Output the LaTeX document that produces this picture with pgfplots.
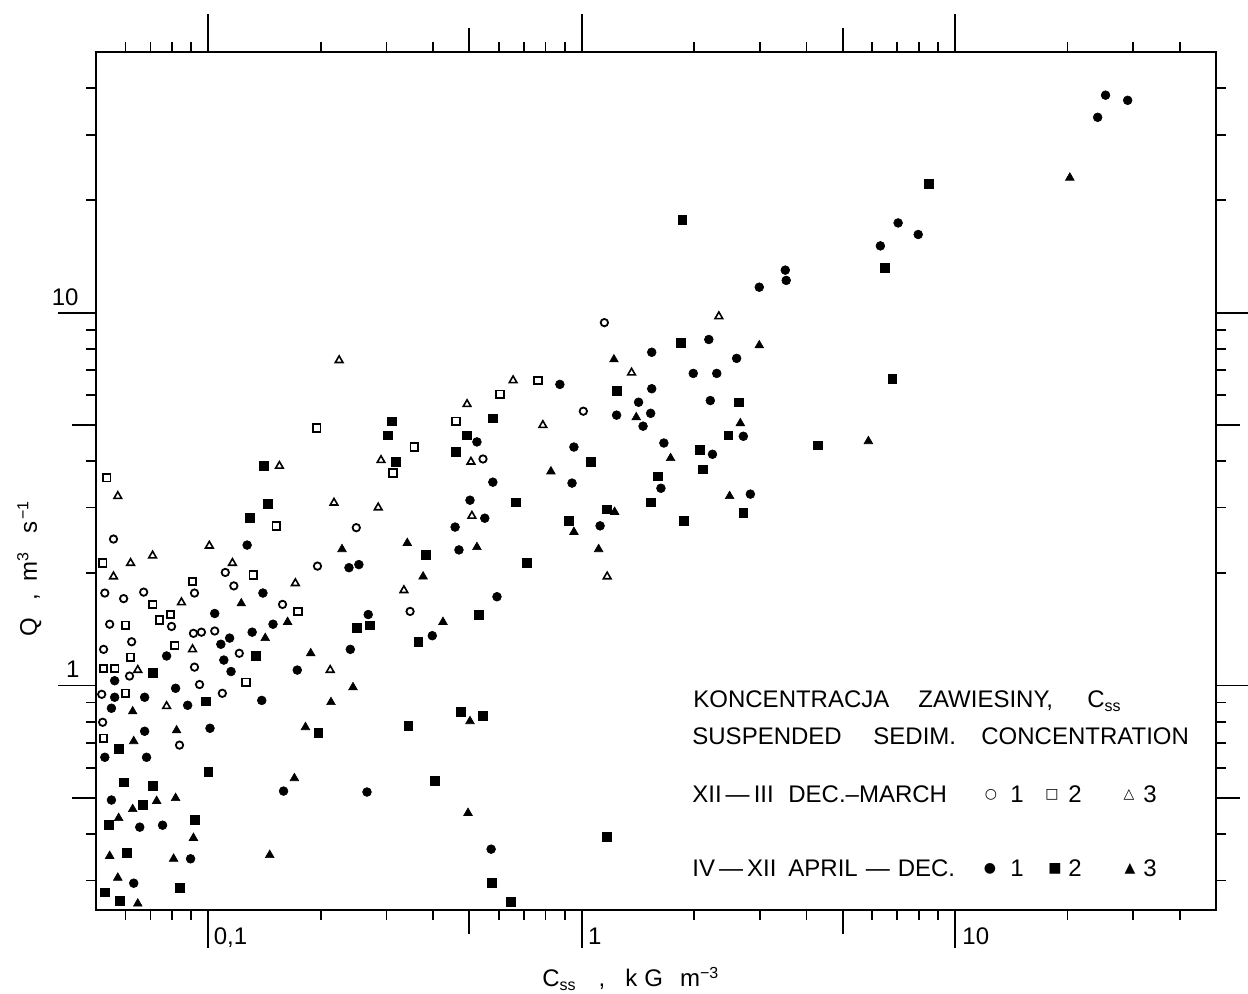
\documentclass[12pt,border=0pt]{standalone}
\usepackage{fontspec}
\setmainfont{Liberation Sans}
\newfontfamily\symfont{DejaVu Sans}
\usepackage{pgfplots}
\pgfplotsset{compat=1.18}

\begin{document}
\begin{tikzpicture}[font=\fontsize{12}{14}\selectfont]
\useasboundingbox (-48pt,-42pt) rectangle (576pt,455pt);
\begin{axis}[
    at={(0,0)}, anchor=south west,
    scale only axis, width=560pt, height=429pt,
    xmode=log, ymode=log,
    xmin=0.05, xmax=50, ymin=0.25, ymax=50,
    axis line style={line width=1pt},
    tick align=outside,
    xtick={0.1,1,10}, ytick={1,10},
    xticklabels={}, yticklabels={},
    minor xtick={0.06,0.07,0.08,0.09,0.2,0.3,0.4,0.5,0.6,0.7,0.8,0.9,2,3,4,5,6,7,8,9,20,30,40},
    minor ytick={0.3,0.4,0.5,0.6,0.7,0.8,0.9,2,3,4,5,6,7,8,9,20,30,40},
    extra x ticks={0.5,5}, extra y ticks={0.5,5},
    extra x tick labels={}, extra y tick labels={},
    extra tick style={major tick length=12pt},
    major tick length=19pt, minor tick length=5pt,
    every tick/.style={black, line width=0.9pt},
    clip=false,
    o1/.style={only marks, mark=o, mark size=1.85pt, mark options={line width=0.9pt}},
    o2/.style={only marks, mark=square, mark size=1.9pt, mark options={line width=0.9pt}},
    o3/.style={only marks, mark=triangle, mark size=2.2pt, mark options={line width=0.8pt}},
    f1/.style={only marks, mark=*, mark size=2.2pt, mark options={line width=0.3pt}},
    f2/.style={only marks, mark=square*, mark size=2.2pt, mark options={line width=0.3pt}},
    f3/.style={only marks, mark=triangle*, mark size=2.5pt, mark options={line width=0.3pt}},
]
% XII-III, 1
\addplot[o1] coordinates {(1.15,9.4) (1.01,5.44) (0.544,4.05) (0.249,2.65) (0.0557,2.47) (0.196,2.09) (0.111,2.01) (0.0528,1.77) (0.0593,1.71) (0.0671,1.78) (0.0918,1.77) (0.117,1.85) (0.158,1.65) (0.347,1.58) (0.0544,1.46) (0.0797,1.44) (0.0912,1.38) (0.0958,1.39) (0.104,1.40) (0.0524,1.25) (0.0623,1.31) (0.0918,1.12) (0.121,1.22) (0.0615,1.06) (0.0518,0.947) (0.0947,1.006) (0.109,0.953) (0.0521,0.797) (0.0837,0.692)};
% XII-III, 2
\addplot[o2] coordinates {(0.763,6.58) (0.604,6.04) (0.461,5.11) (0.356,4.36) (0.195,4.90) (0.312,3.71) (0.0534,3.61) (0.152,2.68) (0.0521,2.13) (0.132,1.98) (0.0907,1.90) (0.0709,1.65) (0.174,1.58) (0.0792,1.55) (0.074,1.50) (0.060,1.45) (0.0812,1.28) (0.0619,1.19) (0.0524,1.11) (0.0561,1.11) (0.126,1.02) (0.060,0.953) (0.0524,0.722)};
% XII-III, 3
\addplot[o3] coordinates {(2.33,9.77) (1.36,6.9) (0.655,6.58) (0.493,5.68) (0.787,4.99) (0.505,3.98) (0.508,2.85) (1.17,1.96) (0.334,1.80) (0.224,7.45) (0.29,4.02) (0.155,3.88) (0.0572,3.22) (0.217,3.09) (0.285,3.0) (0.1006,2.37) (0.0619,2.13) (0.0709,2.23) (0.116,2.13) (0.0557,1.96) (0.171,1.88) (0.0847,1.67) (0.0907,1.25) (0.0647,1.10) (0.212,1.10) (0.0773,0.880)};
% IV-XII, 1
\addplot[f1] coordinates {(25.3,38.3) (29.0,37.1) (24.1,33.4) (7.04,17.4) (7.97,16.2) (6.31,15.1) (3.51,13.0) (3.53,12.2) (2.99,11.7) (2.19,8.47) (1.54,7.83) (2.60,7.54) (1.99,6.87) (2.30,6.87) (0.874,6.42) (1.54,6.25) (1.42,5.75) (2.21,5.81) (1.24,5.31) (1.53,5.37) (1.46,4.96) (0.524,4.50) (2.71,4.66) (0.953,4.36) (1.66,4.47) (2.24,4.17) (0.578,3.51) (0.942,3.49) (1.63,3.38) (2.83,3.26) (0.502,3.14) (0.55,2.81) (1.12,2.68) (0.458,2.66) (0.469,2.31) (0.593,1.73) (0.127,2.38) (0.238,2.07) (0.253,2.11) (0.140,1.77) (0.104,1.56) (0.268,1.55) (0.149,1.46) (0.108,1.29) (0.114,1.34) (0.131,1.39) (0.0773,1.20) (0.110,1.17) (0.240,1.25) (0.115,1.09) (0.173,1.10) (0.0561,1.03) (0.0561,0.930) (0.0675,0.930) (0.0817,0.983) (0.139,0.912) (0.055,0.869) (0.088,0.885) (0.0675,0.754) (0.101,0.768) (0.0528,0.642) (0.0683,0.642) (0.159,0.521) (0.266,0.518) (0.055,0.493) (0.0655,0.417) (0.0754,0.422) (0.0896,0.343) (0.0631,0.295) (0.398,1.36) (0.572,0.364)};
% IV-XII, 2
\addplot[f2] coordinates {(1.86,17.7) (8.52,22.1) (6.47,13.2) (6.79,6.66) (4.28,4.41) (1.84,8.28) (1.24,6.17) (2.63,5.75) (0.578,5.21) (0.493,4.69) (2.47,4.69) (0.461,4.24) (2.07,4.28) (1.057,3.98) (2.11,3.80) (1.60,3.64) (0.666,3.10) (1.53,3.10) (1.166,2.97) (2.71,2.90) (1.88,2.76) (0.924,2.76) (0.383,2.24) (0.713,2.13) (0.531,1.55) (0.31,5.11) (0.303,4.69) (0.318,3.98) (0.141,3.88) (0.144,3.07) (0.129,2.81) (0.25,1.43) (0.27,1.45) (0.134,1.20) (0.0709,1.08) (0.0983,0.907) (0.365,1.31) (0.343,0.778) (0.197,0.745) (0.0575,0.675) (0.100,0.587) (0.0593,0.55) (0.0709,0.537) (0.0666,0.478) (0.0541,0.424) (0.0918,0.436) (0.0604,0.356) (0.0528,0.279) (0.0578,0.265) (0.0837,0.287) (0.475,0.852) (0.544,0.828) (0.405,0.555) (0.575,0.295) (0.647,0.263) (1.17,0.392)};
% IV-XII, 3
\addplot[f3] coordinates {(20.3,23.0) (5.86,4.52) (2.99,8.17) (1.22,7.49) (1.40,5.24) (2.66,5.05) (1.73,4.07) (0.827,3.75) (2.49,3.22) (1.225,2.92) (0.953,2.58) (0.341,2.41) (0.524,2.35) (1.11,2.32) (0.376,1.96) (0.425,1.48) (0.228,2.32) (0.1225,1.66) (0.163,1.48) (0.142,1.34) (0.188,1.22) (0.244,0.989) (0.213,0.902) (0.0627,0.852) (0.0822,0.758) (0.182,0.773) (0.0631,0.709) (0.170,0.564) (0.0627,0.466) (0.0727,0.49) (0.0817,0.499) (0.0575,0.441) (0.0912,0.390) (0.0544,0.349) (0.0807,0.343) (0.146,0.351) (0.0572,0.305) (0.0647,0.260) (0.502,0.802) (0.496,0.455)};

% tick labels
\node[anchor=base east, inner sep=0pt, xshift=-8.5pt, yshift=3.5pt] at (axis cs:0.05,10) {10};
\node[anchor=base east, inner sep=0pt, xshift=-8pt, yshift=4pt] at (axis cs:0.05,1) {1};
\node[anchor=base west, inner sep=0pt, xshift=2.5pt, yshift=-17.5pt] at (axis cs:0.1,0.25) {0,1};
\node[anchor=base west, inner sep=0pt, xshift=3pt, yshift=-17.5pt] at (axis cs:1,0.25) {1};
\node[anchor=base west, inner sep=0pt, xshift=3.5pt, yshift=-17.5pt] at (axis cs:10,0.25) {10};
\end{axis}

% axis titles
\node[anchor=base west, inner sep=0pt] at (223pt,-38.5pt)
  {C\textsubscript{ss}\hspace{11pt},\hspace{10pt}k\hspace{3.5pt}G\hspace{8.5pt}m\textsuperscript{−3}};
\node[anchor=base west, inner sep=0pt, rotate=90] at (-29.5pt,136.5pt)
  {Q\hspace{8.5pt},\hspace{6.5pt}m\textsuperscript{3}\hspace{9pt}s\textsuperscript{\hspace{1pt}−1}};

% legend text
\begin{scope}[every node/.style={anchor=base west, inner sep=0pt}]
\node at (298.5pt,101pt) {KONCENTRACJA};
\node at (411pt,101pt) {ZAWIESINY,};
\node at (495.5pt,101pt) {C\textsubscript{ss}};
\node at (298pt,82.5pt) {SUSPENDED};
\node at (388.5pt,82.5pt) {SEDIM.};
\node at (442.5pt,82.5pt) {CONCENTRATION};
\node at (298pt,53.5pt) {XII\,—\,III};
\node at (346pt,53.5pt) {DEC.–MARCH};
\node at (298pt,16.5pt) {IV\,—\,XII};
\node at (346pt,16.5pt) {APRIL\hspace{4pt}—\hspace{4pt}DEC.};
\node at (457pt,53.5pt) {1};
\node at (486pt,53.5pt) {2};
\node at (523.5pt,53.5pt) {3};
\node at (457pt,16.5pt) {1};
\node at (486pt,16.5pt) {2};
\node at (523.5pt,16.5pt) {3};
\end{scope}
\begin{scope}[every node/.style={anchor=center, inner sep=0pt, font=\symfont\fontsize{7}{8}\selectfont}]
\node at (447.5pt,57.5pt) {○};
\node at (478pt,57.5pt) {□};
\node at (516.5pt,57.5pt) {△};
\node at (447pt,20.5pt) {●};
\node at (479.5pt,20.5pt) {■};
\node at (517pt,20.5pt) {▲};
\end{scope}
\end{tikzpicture}
\end{document}
